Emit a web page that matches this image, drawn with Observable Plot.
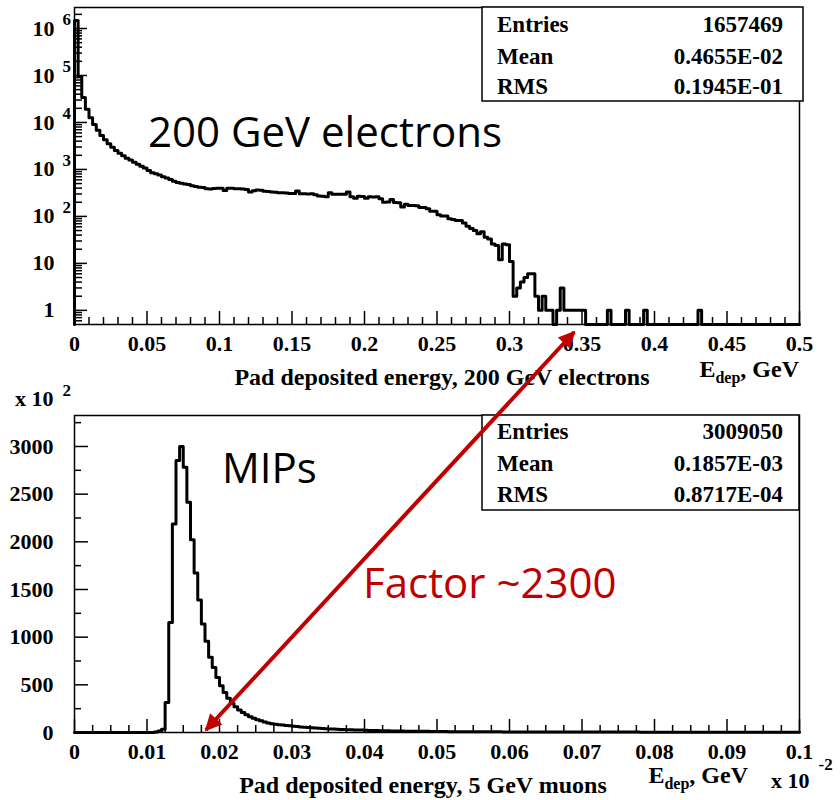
<!DOCTYPE html>
<html>
<head>
<meta charset="utf-8">
<script src="https://cdn.jsdelivr.net/npm/d3@7"></script>
<script src="https://cdn.jsdelivr.net/npm/@observablehq/plot@0.6"></script>
<style>
html,body{margin:0;padding:0;background:#fff;}
#wrap{position:relative;width:840px;height:800px;overflow:hidden;background:#fff;}
</style>
</head>
<body>
<div id="wrap"></div>
<script>
// ---------- DATA ----------
// Top: pad deposited energy, 200 GeV electrons; 200 bins of 0.0025 GeV (0 .. 0.5)
const electronCounts = [
 1480000, 95000, 34000, 19000, 12600, 9100, 6800, 5300, 4300, 3520,
 2970, 2540, 2220, 1950, 1740, 1580, 1430, 1290, 1170, 1070,
 950, 850, 810, 760, 700, 660, 610, 560, 530, 510,
 490, 480, 450, 435, 420, 410, 390, 385, 395, 400,
 400, 355, 400, 400, 390, 390, 385, 375, 330, 350,
 365, 362, 345, 340, 330, 328, 318, 318, 316, 308,
 306, 346, 303, 303, 300, 302, 288, 272, 270, 262,
 318, 298, 298, 296, 298, 330, 262, 245, 268, 266,
 245, 262, 260, 262, 238, 200, 202, 230, 198, 196,
 158, 182, 170, 170, 168, 155, 154, 146, 129, 128,
 109, 102, 102, 89, 86, 82, 82, 72, 62, 55,
 50, 43, 47, 36, 33, 26, 24, 12, 26, 25,
 11, 2, 3, 4, 5, 6, 6, 2, 1, 2,
 1, 1, 0, 1, 3, 1, 1, 1, 1, 1,
 1, 0, 0, 0, 0, 0, 0, 1, 0, 0,
 0, 0, 1, 0, 0, 0, 0, 1, 0, 0,
 0, 0, 0, 0, 0, 0, 0, 0, 0, 0,
 0, 0, 1, 0, 0, 0, 0, 0, 0, 0,
 0, 0, 0, 0, 0, 0, 0, 0, 0, 0,
 0, 0, 0, 0, 0, 0, 0, 0, 0, 0];
const electronBinWidth = 0.0025;

// Bottom: pad deposited energy, 5 GeV muons; counts in units of 10^2, 200 bins of 0.0005 (x 10^-2 GeV)
const muonCounts = [
 0, 0, 0, 0, 0, 0, 0, 0, 0, 0,
 0, 0, 0, 0, 0, 0, 0, 0, 0, 0,
 0, 0, 5, 15, 35, 315, 1155, 2188, 2853, 3000,
 2783, 2415, 2023, 1673, 1390, 1138, 956, 788, 683, 578,
 490, 420, 360, 305, 270, 235, 210, 185, 165, 150,
 135, 122, 110, 100, 92, 86, 82, 78, 74, 70,
 66, 62, 58, 55, 52, 49, 46, 44, 42, 40,
 38, 36, 34, 32, 31, 30, 28, 27, 26, 25,
 23, 22, 21, 20, 19, 19, 18, 17, 16, 16,
 15, 14, 14, 13, 13, 12, 12, 12, 11, 11,
 10, 10, 10, 9, 9, 9, 9, 8, 8, 8,
 8, 8, 7, 7, 7, 7, 7, 7, 6, 6,
 6, 6, 6, 6, 6, 6, 5, 5, 5, 5,
 5, 5, 5, 5, 5, 5, 5, 5, 4, 4,
 4, 4, 4, 4, 4, 4, 4, 4, 4, 4,
 4, 4, 4, 4, 4, 4, 3, 3, 3, 3,
 3, 3, 3, 3, 3, 3, 3, 3, 3, 3,
 3, 3, 3, 3, 3, 3, 3, 3, 3, 3,
 3, 3, 3, 3, 2, 2, 2, 2, 2, 2,
 2, 2, 2, 2, 2, 2, 2, 2, 2, 2];
const muonBinWidth = 0.0005;

// Stats boxes
const statsLabels = ["Entries", "Mean", "RMS"];
const electronStats = ["1657469", "0.4655E-02", "0.1945E-01"];
const muonStats = ["3009050", "0.1857E-03", "0.8717E-04"];

// Ticks / tick labels
const topXMajor = [0, 0.05, 0.1, 0.15, 0.2, 0.25, 0.3, 0.35, 0.4, 0.45, 0.5];
const topXMinor = d3.range(1, 50).filter(k => k % 5).map(k => k / 100);
const topYMajor = [1, 10, 100, 1000, 10000, 100000, 1000000];
const topYBase = ["1", "10", "10", "10", "10", "10", "10"];
const topYExp = ["", "", "2", "3", "4", "5", "6"];
const topYMinor = [0.6, 0.7, 0.8, 0.9].concat(
  [1, 10, 100, 1000, 10000, 100000].flatMap(d => [2, 3, 4, 5, 6, 7, 8, 9].map(m => m * d)), [2000000]);
const botXMajor = [0, 0.01, 0.02, 0.03, 0.04, 0.05, 0.06, 0.07, 0.08, 0.09, 0.1];
const botXMinor = d3.range(1, 40).filter(k => k % 4).map(k => k * 0.0025);
const botYMajor = [0, 500, 1000, 1500, 2000, 2500, 3000];
const botYMinor = [250, 750, 1250, 1750, 2250, 2750, 3250];

// Texts
const topTitle = "Pad deposited energy, 200 GeV electrons";
const botTitle = "Pad deposited energy, 5 GeV muons";
const topNote = "200 GeV electrons";
const botNote = "MIPs";
const factorNote = "Factor ~2300";

// ---------- HELPERS ----------
const serif = "'Liberation Serif','Times New Roman',serif";
const sans = "'Open Sans','Noto Sans',sans-serif";
const red = "#c00000";
const fmt = d => String(+d.toFixed(4));

function histTable(counts, binWidth, floor) {
  const rows = [{x: 0, y: floor}];
  counts.forEach((c, i) => rows.push({x: i * binWidth, y: Math.max(c, floor)}));
  rows.push({x: counts.length * binWidth, y: Math.max(counts[counts.length - 1], floor)});
  return rows;
}
const topYLabels = topYMajor.map((v, i) => ({v, base: topYBase[i], exp: topYExp[i]}));

const wrap = document.getElementById("wrap");

// ---------- TOP PLOT ----------
const topPlot = Plot.plot({
  width: 840, height: 390,
  marginLeft: 74, marginRight: 41, marginTop: 7, marginBottom: 66,
  x: {domain: [0, 0.5], label: null},
  y: {type: "log", domain: [0.5, 2.8e6], label: null},
  style: {fontFamily: serif, fontSize: "22px", fontWeight: "bold", color: "black", background: "transparent"},
  marks: [
    Plot.axisX(topXMinor, {tickSize: -7, strokeWidth: 1.5, fill: "none", label: null}),
    Plot.axisX(topXMajor, {tickSize: -13, strokeWidth: 1.5, fill: "none", label: null}),
    Plot.axisX(topXMajor, {tickSize: 0, tickPadding: 11, tickFormat: fmt, label: null}),
    Plot.axisY(topYMinor, {tickSize: -8, strokeWidth: 1.5, fill: "none", label: null}),
    Plot.axisY(topYMajor, {tickSize: -13, strokeWidth: 1.5, fill: "none", label: null}),
    Plot.text(topYLabels, {y: "v", text: "base", frameAnchor: "left", dx: -20, textAnchor: "end", fontSize: 22}),
    Plot.text(topYLabels, {y: "v", text: "exp", frameAnchor: "left", dx: -12, dy: -9, textAnchor: "start", fontSize: 17}),
    Plot.line(histTable(electronCounts, electronBinWidth, 0.5), {x: "x", y: "y", curve: "step-after", stroke: "black", strokeWidth: 3}),
    Plot.frame({stroke: "black", strokeWidth: 1.5})
  ]
});
topPlot.style.position = "absolute";
topPlot.style.left = "0px";
topPlot.style.top = "0px";
wrap.appendChild(topPlot);

// ---------- BOTTOM PLOT ----------
const botTop = 390;
const botPlot = Plot.plot({
  width: 840, height: 410,
  marginLeft: 74, marginRight: 41, marginTop: 25, marginBottom: 68,
  x: {domain: [0, 0.1], label: null},
  y: {domain: [0, 3325], label: null},
  style: {fontFamily: serif, fontSize: "22px", fontWeight: "bold", color: "black", background: "transparent"},
  marks: [
    Plot.axisX(botXMinor, {tickSize: -7, strokeWidth: 1.5, fill: "none", label: null}),
    Plot.axisX(botXMajor, {tickSize: -13, strokeWidth: 1.5, fill: "none", label: null}),
    Plot.axisX(botXMajor, {tickSize: 0, tickPadding: 11, tickFormat: fmt, label: null}),
    Plot.axisY(botYMinor, {tickSize: -7, strokeWidth: 1.5, fill: "none", label: null}),
    Plot.axisY(botYMajor, {tickSize: -14, strokeWidth: 1.5, fill: "none", label: null}),
    Plot.axisY(botYMajor, {tickSize: 0, tickPadding: 21, tickFormat: d => String(d), label: null}),
    Plot.line(histTable(muonCounts, muonBinWidth, 0), {x: "x", y: "y", curve: "step-after", stroke: "black", strokeWidth: 3}),
    Plot.frame({stroke: "black", strokeWidth: 1.5})
  ]
});
botPlot.style.position = "absolute";
botPlot.style.left = "0px";
botPlot.style.top = botTop + "px";
wrap.appendChild(botPlot);

// ---------- OVERLAY (stats, labels, annotations) ----------
const ov = d3.select(wrap).append("svg")
  .attr("width", 840).attr("height", 800)
  .style("position", "absolute").style("left", "0px").style("top", "0px")
  .style("pointer-events", "none");

function statsBox(x, y, w, h, values, baselines) {
  ov.append("rect").attr("x", x).attr("y", y).attr("width", w).attr("height", h)
    .attr("fill", "white").attr("stroke", "black").attr("stroke-width", 1.5);
  statsLabels.forEach((lab, i) => {
    ov.append("text").attr("x", x + 15).attr("y", baselines[i])
      .attr("font-family", serif).attr("font-weight", "bold").attr("font-size", 23).text(lab);
    ov.append("text").attr("x", x + 301).attr("y", baselines[i]).attr("text-anchor", "end")
      .attr("font-family", serif).attr("font-weight", "bold").attr("font-size", 23).text(values[i]);
  });
}
statsBox(482, 7, 321, 94, electronStats, [32, 64, 94]);
statsBox(482, 415, 317, 95, muonStats, [439, 471, 502]);

function serifText(x, y, anchor, size) {
  return ov.append("text").attr("x", x).attr("y", y).attr("text-anchor", anchor)
    .attr("font-family", serif).attr("font-weight", "bold").attr("font-size", size).attr("fill", "black");
}
// axis titles
serifText(442, 385, "middle", 24).text(topTitle);
serifText(423, 793, "middle", 24).text(botTitle);
function edep(x, y) {
  const t = serifText(x, y, "end", 24);
  t.append("tspan").text("E");
  t.append("tspan").attr("font-size", 16).attr("dy", 6).text("dep");
  t.append("tspan").attr("dy", -6).text(", GeV");
}
edep(799, 377);
edep(748, 783);
// multipliers
const m1 = serifText(15, 406, "start", 22);
m1.append("tspan").text("x 10");
m1.append("tspan").attr("font-size", 17).attr("dx", 9).attr("dy", -10).text("2");
const m2 = serifText(771, 788, "start", 22);
m2.append("tspan").text("x 10");
m2.append("tspan").attr("font-size", 17).attr("dx", 9).attr("dy", -18).text("-2");

// big annotations
ov.append("text").attr("x", 148).attr("y", 147).attr("font-family", sans).attr("font-size", 42).attr("fill", "black").text(topNote);
ov.append("text").attr("x", 222).attr("y", 483).attr("font-family", sans).attr("font-size", 42).attr("fill", "black").text(botNote);
ov.append("text").attr("x", 363).attr("y", 598).attr("font-family", sans).attr("font-size", 42).attr("fill", red).text(factorNote);

// double arrow, anchored in data coordinates of both panels
const tx = topPlot.scale("x"), ty = topPlot.scale("y");
const bx = botPlot.scale("x"), by = botPlot.scale("y");
const A = [tx.apply(0.345), ty.apply(0.5) + 8];
const B = [bx.apply(0.0182), botTop + by.apply(0) - 2];
const defs = ov.append("defs");
defs.append("marker").attr("id", "ah").attr("viewBox", "0 0 10 10")
  .attr("refX", 9).attr("refY", 5).attr("markerWidth", 4.8).attr("markerHeight", 4.2)
  .attr("orient", "auto-start-reverse").attr("markerUnits", "strokeWidth")
  .append("path").attr("d", "M0,0 L10,5 L0,10 z").attr("fill", red);
ov.append("line").attr("x1", B[0]).attr("y1", B[1]).attr("x2", A[0]).attr("y2", A[1])
  .attr("stroke", red).attr("stroke-width", 4)
  .attr("marker-start", "url(#ah)").attr("marker-end", "url(#ah)");
</script>
</body>
</html>
